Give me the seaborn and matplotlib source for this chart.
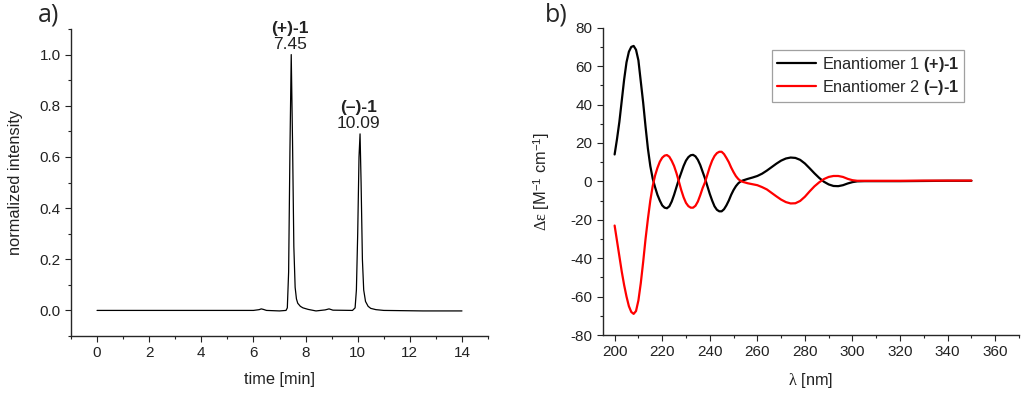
import numpy as np
import pandas as pd
import matplotlib
matplotlib.use("Agg")
import matplotlib.pyplot as plt
from matplotlib.ticker import MultipleLocator, FormatStrFormatter
import seaborn as sns

# ---------------- data ----------------
# HPLC chromatogram (panel a)
hplc_time = [0.0, 3.0, 6.0, 6.22, 6.3, 6.38, 6.5, 7.0, 7.25, 7.3, 7.35, 7.4, 7.45,
             7.5, 7.55, 7.6, 7.65, 7.7, 7.8, 7.9, 8.1, 8.4, 8.75, 8.9, 9.05, 9.8,
             9.9, 9.95, 10.0, 10.05, 10.09, 10.13, 10.18, 10.23, 10.3, 10.4, 10.5,
             10.7, 11.0, 12.5, 14.0]
hplc_int = [0.0, 0.0, 0.0, 0.003, 0.006, 0.004, 0.0, -0.002, 0.0, 0.01, 0.15, 0.62, 1.0,
            0.66, 0.25, 0.09, 0.045, 0.028, 0.016, 0.01, 0.004, -0.002, 0.002, 0.006, 0.001, 0.0,
            0.01, 0.08, 0.3, 0.6, 0.69, 0.5, 0.2, 0.08, 0.035, 0.016, 0.008,
            0.003, 0.0, -0.002, -0.002]
peak_times = [7.45, 10.09]
peak_heights = [1.0, 0.69]
peak_names = ["(+)-1", "(\u2013)-1"]
peak_labels = ["7.45", "10.09"]

# CD spectra (panel b)
wl = [200, 201, 202, 203, 204, 205, 206, 207, 208, 209, 210, 211, 212, 213, 214, 215,
      216, 217, 218, 219, 220, 221, 222, 223, 224, 225, 226, 227, 228, 229, 230, 231,
      232, 233, 234, 235, 236, 237, 238, 239, 240, 241, 242, 243, 244, 245, 246, 247,
      248, 249, 250, 251, 252, 253, 254, 256, 258, 260, 262, 264, 266, 268, 270, 272,
      274, 276, 278, 280, 282, 284, 286, 288, 290, 292, 294, 296, 298, 300, 302, 305,
      310, 320, 330, 340, 350]
cd_plus = [14, 22, 31, 42, 53, 62, 67.5, 70, 70.5, 68.5, 63, 52, 41, 28.5, 17, 8,
           1.5, -3, -7, -10, -12.5, -13.7, -14, -13, -10.5, -7, -3, 1, 4.5, 8, 10.8, 12.6,
           13.6, 13.8, 13, 11.2, 8.5, 5, 1.5, -2.5, -6.5, -10, -13, -14.8, -15.6, -15.6, -14.5, -12.5,
           -10, -7, -4.5, -2.5, -1, 0, 0.5, 1.3, 2, 2.8, 4, 5.6, 7.4, 9.2, 10.8, 11.9,
           12.4, 12.2, 11.2, 9.3, 6.8, 4.2, 1.8, -0.2, -1.6, -2.4, -2.5, -2, -1.1, -0.4, 0, 0.1,
           0.1, 0.1, 0.2, 0.3, 0.3]
cd_minus = [-23, -31, -39, -47, -54, -60, -65, -68, -69, -67.5, -62, -53, -42, -30, -19.5, -10,
            -2.5, 3, 7, 10.2, 12.3, 13.4, 13.7, 12.8, 10.7, 8, 4.3, 0, -4.5, -8.3, -11.2, -12.9,
            -13.7, -13.7, -12.7, -10.5, -7.2, -3.5, -0.5, 3.5, 7.5, 10.8, 13.2, 14.7, 15.4, 15.4, 14.2, 12.2,
            10, 7.2, 4.8, 2.7, 1.2, 0.2, -0.3, -1, -1.5, -2, -3, -4.2, -6, -7.8, -9.5, -10.8,
            -11.5, -11.4, -10.2, -8, -5.2, -2.6, -0.5, 1.2, 2.3, 2.8, 2.8, 2.3, 1.3, 0.6, 0.3, 0.3,
            0.3, 0.3, 0.4, 0.4, 0.4]
series_names = ["Enantiomer 1 $\\mathbf{(+)\u20101}$",
                "Enantiomer 2 $\\mathbf{(\u2013)\u20101}$"]
series_colors = ["black", "#ff0000"]

# ---------------- style ----------------
sns.set_theme(style="ticks")
plt.rcParams["font.family"] = ["Liberation Sans", "DejaVu Sans"]
plt.rcParams["mathtext.fontset"] = "custom"
plt.rcParams["mathtext.rm"] = "Liberation Sans"
plt.rcParams["mathtext.it"] = "Liberation Serif"
plt.rcParams["mathtext.bf"] = "Liberation Sans:bold"
plt.rcParams["mathtext.cal"] = "Liberation Serif"
plt.rcParams["axes.unicode_minus"] = False
plt.rcParams["axes.linewidth"] = 1.0
for ax_ in ("x", "y"):
    plt.rcParams[f"{ax_}tick.direction"] = "out"
    plt.rcParams[f"{ax_}tick.major.size"] = 4
    plt.rcParams[f"{ax_}tick.minor.size"] = 2.5
    plt.rcParams[f"{ax_}tick.major.width"] = 0.8
    plt.rcParams[f"{ax_}tick.minor.width"] = 0.8
    plt.rcParams[f"{ax_}tick.color"] = "#222222"
    plt.rcParams[f"{ax_}tick.labelcolor"] = "#222222"

fig = plt.figure(figsize=(10.24, 3.94), dpi=100)
axA = fig.add_axes([0.0693, 0.1472, 0.4073, 0.7792])
axB = fig.add_axes([0.5886, 0.1497, 0.4065, 0.7800])

# ---------- panel a ----------
dfA = pd.DataFrame({"time": hplc_time, "intensity": hplc_int})
sns.lineplot(data=dfA, x="time", y="intensity", ax=axA, color="black", lw=0.9,
             estimator=None, sort=False)
axA.set_xlim(-1, 15)
axA.set_ylim(-0.1, 1.1)
axA.xaxis.set_major_locator(MultipleLocator(2))
axA.xaxis.set_minor_locator(MultipleLocator(1))
axA.yaxis.set_minor_locator(MultipleLocator(0.1))
axA.set_yticks([0.0, 0.2, 0.4, 0.6, 0.8, 1.0])
axA.yaxis.set_major_formatter(FormatStrFormatter("%.1f"))
axA.set_xlabel("time [min]", fontsize=11.8, color="#222222", labelpad=8)
axA.set_ylabel("normalized intensity", fontsize=11.8, color="#222222", labelpad=12)
axA.tick_params(labelsize=11)
sns.despine(ax=axA)
for t, h, name, lab in zip(peak_times, peak_heights, peak_names, peak_labels):
    axA.text(t - 0.05, h + 0.010, lab, ha="center", va="bottom", fontsize=12.5, color="#222222")
    axA.text(t - 0.05, h + 0.072, name, ha="center", va="bottom", fontsize=12.5,
             fontweight="bold", color="#222222")
fig.text(0.037, 0.962, "a)", fontsize=18, family="Open Sans", va="center", ha="left")

# ---------- panel b ----------
dfB = pd.DataFrame({
    "wl": wl * 2,
    "de": cd_plus + cd_minus,
    "series": [series_names[0]] * len(wl) + [series_names[1]] * len(wl),
})
sns.lineplot(data=dfB, x="wl", y="de", hue="series", palette=series_colors, ax=axB,
             lw=1.6, estimator=None, sort=False)
axB.set_xlim(195, 370)
axB.set_ylim(-80, 80)
axB.xaxis.set_minor_locator(MultipleLocator(10))
axB.yaxis.set_major_locator(MultipleLocator(20))
axB.yaxis.set_minor_locator(MultipleLocator(10))
axB.set_xticks(np.arange(200, 361, 20))
axB.set_xlabel("$\\lambda$ [nm]", fontsize=11.8, color="#222222", labelpad=8)
axB.set_ylabel("$\\mathcal{\\Delta}\\varepsilon$ [M$^{-1}$ cm$^{-1}$]", fontsize=11.8,
               color="#222222", labelpad=13)
axB.tick_params(labelsize=11)
sns.despine(ax=axB)
leg = axB.legend(loc="upper right", bbox_to_anchor=(0.868, 0.927), borderaxespad=0,
                 fontsize=11.7, frameon=True, fancybox=False, handlelength=2.4,
                 handletextpad=0.35, labelspacing=0.25, borderpad=0.3, title=None)
leg.get_frame().set_edgecolor("#888888")
leg.get_frame().set_linewidth(0.9)
for line in leg.get_lines():
    line.set_linewidth(1.6)
fig.text(0.532, 0.962, "b)", fontsize=18, family="Open Sans", va="center", ha="left")

fig.savefig("out.png", dpi=100)
